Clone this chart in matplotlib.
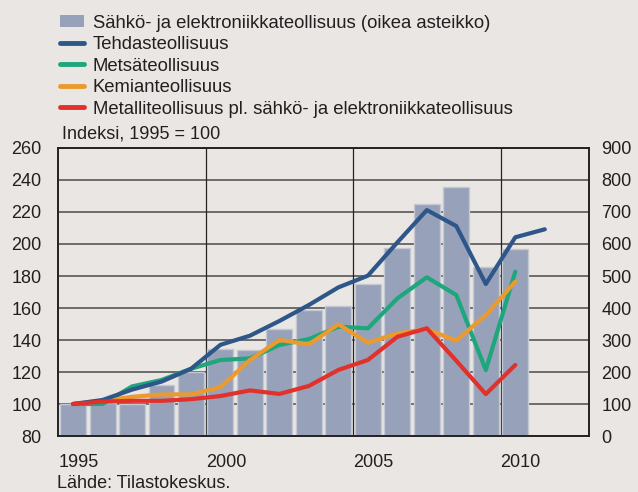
import matplotlib
matplotlib.use("Agg")
import matplotlib.pyplot as plt
from matplotlib.patches import Patch
from matplotlib.lines import Line2D
import numpy as np

plt.rcParams['font.family'] = ['Liberation Sans', 'DejaVu Sans']

years = list(range(1995, 2012))
# Right axis (bars)
elektroniikka = [100, 102, 101, 159, 200, 271, 270, 333, 394, 407, 475, 586, 724, 778, 529, 584]
# Left axis (lines), index 1995 = 100
tehdas = [100, 102.5, 109, 114, 122, 137, 142.7, 151.9, 161.9, 172.9, 180.2, 201, 221.2, 211.2, 175, 204.2, 209.2]
metsa = [100, 100, 111, 115, 122, 127.5, 128.5, 136.9, 140.6, 148.3, 147.3, 166, 179.2, 168.1, 121.2, 182.7]
kemia = [100, 102, 104.5, 106, 106, 110.5, 127.5, 140, 137.3, 149.8, 138.3, 144.2, 146.7, 139.6, 155.6, 176.5]
metalli = [100, 101.5, 102, 102, 103, 105, 108.5, 106.3, 111.3, 121.3, 127.5, 142, 147.3, 127, 106.2, 124.4]

labels = ["Sähkö- ja elektroniikkateollisuus (oikea asteikko)",
          "Tehdasteollisuus",
          "Metsäteollisuus",
          "Kemianteollisuus",
          "Metalliteollisuus pl. sähkö- ja elektroniikkateollisuus"]
xtick_years = [1995, 2000, 2005, 2010]
left_ticks = list(range(80, 261, 20))
right_ticks = list(range(0, 901, 100))

bg = '#e9e6e3'
c_bar = '#97a2ba'
c_bar_edge = '#c3c8d3'
c_blue = '#2f5689'
c_green = '#1ea67c'
c_orange = '#eb9a2e'
c_red = '#e2302a'
txt = '#231f20'
grid_c = '#4a4a4a'

fig = plt.figure(figsize=(6.38, 4.92), dpi=100, facecolor=bg)
ax2 = fig.add_axes([0.0914, 0.1138, 0.8318, 0.5854])
ax = ax2.twinx()
ax.set_zorder(ax2.get_zorder() + 1)
ax.patch.set_visible(False)
ax2.set_facecolor(bg)

ax2.yaxis.tick_right()
ax.yaxis.tick_left()

ax2.set_ylim(0, 900)
ax.set_ylim(80, 260)
ax2.set_xlim(1995, 2013)

for v in right_ticks:
    ax2.axhline(v, color=grid_c, lw=1.1, zorder=0)
for xv in xtick_years[1:]:
    ax2.axvline(xv, color='#222222', lw=0.9, zorder=0)

bx = np.array(years[:len(elektroniikka)]) + 0.5
ax2.bar(bx, elektroniikka, width=0.88, color=c_bar, edgecolor=c_bar_edge, linewidth=1.0, zorder=2)

def xs(vals):
    return np.array(years[:len(vals)]) + 0.5

lw = 3.0
ax.plot(xs(tehdas), tehdas, color=c_blue, lw=lw, solid_capstyle='round', zorder=5)
ax.plot(xs(metsa), metsa, color=c_green, lw=lw, solid_capstyle='round', zorder=4)
ax.plot(xs(kemia), kemia, color=c_orange, lw=lw, solid_capstyle='round', zorder=4)
ax.plot(xs(metalli), metalli, color=c_red, lw=lw, solid_capstyle='round', zorder=6)

ax.set_yticks(left_ticks)
ax.set_yticklabels([str(v) for v in left_ticks])
ax2.set_yticks(right_ticks)
ax2.set_yticklabels([str(v) for v in right_ticks])
ax2.set_xticks(xtick_years)
ax2.set_xticklabels([str(v) for v in xtick_years], ha='left')

fs = 13
ax.tick_params(axis='y', length=0, pad=12, labelsize=fs, labelcolor=txt)
ax2.tick_params(axis='y', length=0, pad=9, labelsize=fs, labelcolor=txt)
ax2.tick_params(axis='x', length=0, pad=13, labelsize=fs, labelcolor=txt, labelbottom=True)

for a in (ax, ax2):
    for s in a.spines.values():
        s.set_color('#222222')
        s.set_linewidth(1.2)

handles = [Patch(facecolor=c_bar, edgecolor='none'),
           Line2D([], [], color=c_blue, lw=3.5, solid_capstyle='round'),
           Line2D([], [], color=c_green, lw=3.5, solid_capstyle='round'),
           Line2D([], [], color=c_orange, lw=3.5, solid_capstyle='round'),
           Line2D([], [], color=c_red, lw=3.5, solid_capstyle='round')]
leg = fig.legend(handles, labels, loc='upper left', bbox_to_anchor=(0.083, 0.985),
                 frameon=False, fontsize=13.3, handlelength=1.3, handleheight=0.6,
                 handletextpad=0.45, labelspacing=0.24, borderaxespad=0.0)
for t in leg.get_texts():
    t.set_color(txt)

fig.text(0.097, 0.728, "Indeksi, 1995 = 100", fontsize=fs, color=txt, ha='left', va='center')
fig.text(0.089, 0.018, "Lähde: Tilastokeskus.", fontsize=fs, color=txt, ha='left', va='center')

fig.savefig("out.png", dpi=100, facecolor=bg)
